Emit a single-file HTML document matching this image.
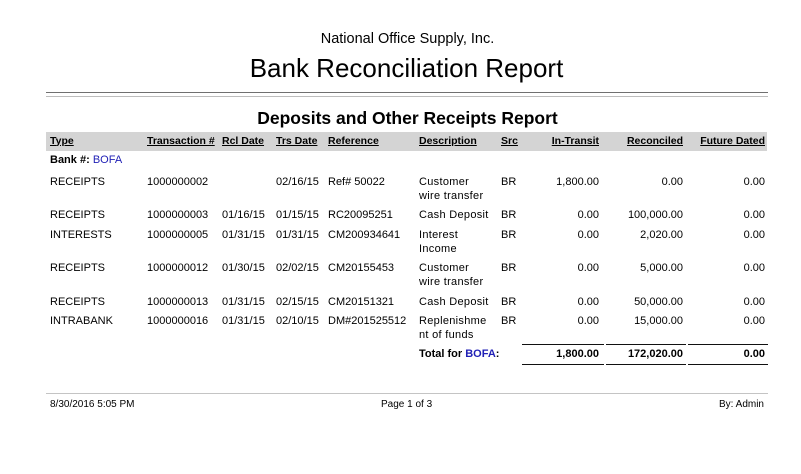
<!DOCTYPE html>
<html><head><meta charset="utf-8"><style>
html,body{margin:0;padding:0;background:#fff;}
body{width:801px;height:474px;position:relative;overflow:hidden;font-family:"Liberation Sans",Arial,sans-serif;color:#000;}
.a{position:absolute;white-space:nowrap;}
.t{font-size:11px;line-height:14px;}
.h{font-size:10.5px;line-height:1;font-weight:bold;text-decoration:underline;}
.r{text-align:right;}
.b{color:#1f1fb5;}
.ln{position:absolute;height:1px;}
</style></head><body>
<div class="a" style="left:0;width:801px;top:32px;font-size:14.5px;line-height:1;text-align:center;left:7px;">National Office Supply, Inc.</div>
<div class="a" style="left:0;width:801px;top:55px;font-size:26px;line-height:1;text-align:center;left:6px;">Bank Reconciliation Report</div>
<div class="ln" style="left:46px;width:722px;top:92px;background:#707070;"></div>
<div class="ln" style="left:46px;width:722px;top:96px;background:#bdbdbd;"></div>
<div class="a" style="left:0;width:801px;top:109.5px;font-size:17.5px;line-height:1;font-weight:bold;text-align:center;left:7px;">Deposits and Other Receipts Report</div>

<div style="position:absolute;left:46px;top:132px;width:721px;height:19px;background:#d4d4d4;"></div>
<div class="a h" style="left:50px;top:135.5px;">Type</div>
<div class="a h" style="left:147px;top:135.5px;">Transaction #</div>
<div class="a h" style="left:222px;top:135.5px;">Rcl Date</div>
<div class="a h" style="left:276px;top:135.5px;">Trs Date</div>
<div class="a h" style="left:328px;top:135.5px;">Reference</div>
<div class="a h" style="left:419px;top:135.5px;">Description</div>
<div class="a h" style="left:501px;top:135.5px;">Src</div>
<div class="a h r" style="right:202px;top:135.5px;">In-Transit</div>
<div class="a h r" style="right:118px;top:135.5px;">Reconciled</div>
<div class="a h r" style="right:36px;top:135.5px;">Future Dated</div>

<div class="a t" style="left:50px;top:153px;"><b>Bank #:</b> <span class="b">BOFA</span></div>

<!-- row 1 -->
<div class="a t" style="left:50px;top:175px;">RECEIPTS</div>
<div class="a t" style="left:147px;top:175px;">1000000002</div>
<div class="a t" style="left:276px;top:175px;">02/16/15</div>
<div class="a t" style="left:328px;top:175px;">Ref# 50022</div>
<div class="a t" style="left:419px;top:175px;letter-spacing:0.3px;">Customer<br>wire transfer</div>
<div class="a t" style="left:501px;top:175px;">BR</div>
<div class="a t r" style="right:202px;top:175px;">1,800.00</div>
<div class="a t r" style="right:118px;top:175px;">0.00</div>
<div class="a t r" style="right:36px;top:175px;">0.00</div>

<!-- row 2 -->
<div class="a t" style="left:50px;top:208.4px;">RECEIPTS</div>
<div class="a t" style="left:147px;top:208.4px;">1000000003</div>
<div class="a t" style="left:222px;top:208.4px;">01/16/15</div>
<div class="a t" style="left:276px;top:208.4px;">01/15/15</div>
<div class="a t" style="left:328px;top:208.4px;">RC20095251</div>
<div class="a t" style="left:419px;top:208.4px;letter-spacing:0.3px;">Cash Deposit</div>
<div class="a t" style="left:501px;top:208.4px;">BR</div>
<div class="a t r" style="right:202px;top:208.4px;">0.00</div>
<div class="a t r" style="right:118px;top:208.4px;">100,000.00</div>
<div class="a t r" style="right:36px;top:208.4px;">0.00</div>

<!-- row 3 -->
<div class="a t" style="left:50px;top:228.4px;">INTERESTS</div>
<div class="a t" style="left:147px;top:228.4px;">1000000005</div>
<div class="a t" style="left:222px;top:228.4px;">01/31/15</div>
<div class="a t" style="left:276px;top:228.4px;">01/31/15</div>
<div class="a t" style="left:328px;top:228.4px;">CM200934641</div>
<div class="a t" style="left:419px;top:228.4px;letter-spacing:0.3px;">Interest<br>Income</div>
<div class="a t" style="left:501px;top:228.4px;">BR</div>
<div class="a t r" style="right:202px;top:228.4px;">0.00</div>
<div class="a t r" style="right:118px;top:228.4px;">2,020.00</div>
<div class="a t r" style="right:36px;top:228.4px;">0.00</div>

<!-- row 4 -->
<div class="a t" style="left:50px;top:261px;">RECEIPTS</div>
<div class="a t" style="left:147px;top:261px;">1000000012</div>
<div class="a t" style="left:222px;top:261px;">01/30/15</div>
<div class="a t" style="left:276px;top:261px;">02/02/15</div>
<div class="a t" style="left:328px;top:261px;">CM20155453</div>
<div class="a t" style="left:419px;top:261px;letter-spacing:0.3px;">Customer<br>wire transfer</div>
<div class="a t" style="left:501px;top:261px;">BR</div>
<div class="a t r" style="right:202px;top:261px;">0.00</div>
<div class="a t r" style="right:118px;top:261px;">5,000.00</div>
<div class="a t r" style="right:36px;top:261px;">0.00</div>

<!-- row 5 -->
<div class="a t" style="left:50px;top:295px;">RECEIPTS</div>
<div class="a t" style="left:147px;top:295px;">1000000013</div>
<div class="a t" style="left:222px;top:295px;">01/31/15</div>
<div class="a t" style="left:276px;top:295px;">02/15/15</div>
<div class="a t" style="left:328px;top:295px;">CM20151321</div>
<div class="a t" style="left:419px;top:295px;letter-spacing:0.3px;">Cash Deposit</div>
<div class="a t" style="left:501px;top:295px;">BR</div>
<div class="a t r" style="right:202px;top:295px;">0.00</div>
<div class="a t r" style="right:118px;top:295px;">50,000.00</div>
<div class="a t r" style="right:36px;top:295px;">0.00</div>

<!-- row 6 -->
<div class="a t" style="left:50px;top:314px;">INTRABANK</div>
<div class="a t" style="left:147px;top:314px;">1000000016</div>
<div class="a t" style="left:222px;top:314px;">01/31/15</div>
<div class="a t" style="left:276px;top:314px;">02/10/15</div>
<div class="a t" style="left:328px;top:314px;">DM#201525512</div>
<div class="a t" style="left:419px;top:314px;letter-spacing:0.3px;">Replenishme<br>nt of funds</div>
<div class="a t" style="left:501px;top:314px;">BR</div>
<div class="a t r" style="right:202px;top:314px;">0.00</div>
<div class="a t r" style="right:118px;top:314px;">15,000.00</div>
<div class="a t r" style="right:36px;top:314px;">0.00</div>

<!-- totals -->
<div class="ln" style="left:522px;width:82px;top:344px;background:#111;"></div>
<div class="ln" style="left:606px;width:80px;top:344px;background:#111;"></div>
<div class="ln" style="left:688px;width:80px;top:344px;background:#111;"></div>
<div class="a t" style="left:419px;top:347px;font-weight:bold;">Total for <span class="b">BOFA</span>:</div>
<div class="a t r" style="right:202px;top:347px;font-weight:bold;">1,800.00</div>
<div class="a t r" style="right:118px;top:347px;font-weight:bold;">172,020.00</div>
<div class="a t r" style="right:36px;top:347px;font-weight:bold;">0.00</div>
<div class="ln" style="left:522px;width:82px;top:364px;background:#111;"></div>
<div class="ln" style="left:606px;width:80px;top:364px;background:#111;"></div>
<div class="ln" style="left:688px;width:80px;top:364px;background:#111;"></div>

<!-- footer -->
<div class="ln" style="left:46px;width:722px;top:393px;background:#c4c4c4;"></div>
<div class="a" style="left:50px;top:400px;font-size:10px;line-height:1;">8/30/2016 5:05 PM</div>
<div class="a" style="left:381px;top:400px;font-size:10px;line-height:1;">Page 1 of 3</div>
<div class="a r" style="right:37px;top:400px;font-size:10px;line-height:1;">By: Admin</div>
</body></html>
